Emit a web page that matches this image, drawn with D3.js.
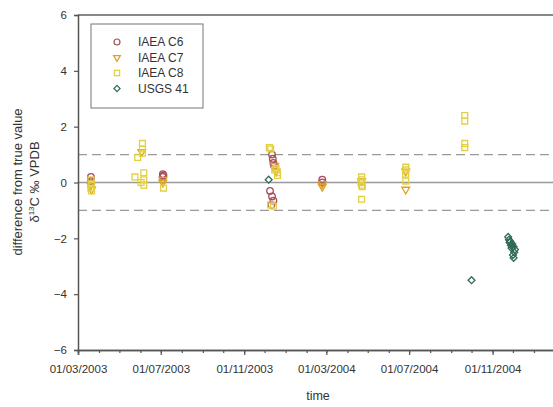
<!DOCTYPE html>
<html>
<head>
<meta charset="utf-8">
<script src="https://cdn.jsdelivr.net/npm/d3@7"></script>
<style>
  body { margin: 0; background: #fff; }
  text { font-family: "Liberation Sans", Arial, sans-serif; fill: #333; }
</style>
</head>
<body>
<script>
let width = 553;
let height = 407;

// data: [date, difference from true value]
let c6 = [
  ['2003-03-20', 0.2], ['2003-03-20', 0.05],
  ['2003-07-04', 0.3], ['2003-07-04', 0.2], ['2003-07-05', 0.25],
  ['2003-12-12', 1.0], ['2003-12-13', 0.85], ['2003-12-14', 0.7], ['2003-12-15', 0.6],
  ['2003-12-09', -0.3], ['2003-12-12', -0.5], ['2003-12-14', -0.65], ['2003-12-11', -0.8],
  ['2004-02-24', 0.1], ['2004-02-24', 0.0]
];
let c7 = [
  ['2003-03-20', -0.1], ['2003-03-21', -0.25],
  ['2003-06-03', 1.1],
  ['2003-07-04', 0.1], ['2003-07-04', 0.0],
  ['2003-12-16', 0.6], ['2003-12-18', 0.4],
  ['2004-02-24', -0.05], ['2004-02-24', -0.15],
  ['2004-04-22', 0.05],
  ['2004-06-26', 0.4], ['2004-06-26', -0.25]
];
let c8 = [
  ['2003-03-20', -0.2], ['2003-03-21', -0.05], ['2003-03-20', 0.1], ['2003-03-21', -0.3],
  ['2003-05-24', 0.2], ['2003-05-28', 0.9], ['2003-06-04', 1.4], ['2003-06-04', 1.2],
  ['2003-06-04', 1.05], ['2003-06-06', 0.35], ['2003-06-06', 0.1], ['2003-06-06', -0.1],
  ['2003-06-02', 0.0],
  ['2003-07-05', -0.2],
  ['2003-12-08', 1.25], ['2003-12-10', 1.2], ['2003-12-18', 0.5], ['2003-12-20', 0.35],
  ['2003-12-20', 0.25], ['2003-12-16', 0.45], ['2003-12-10', -0.8], ['2003-12-14', -0.85],
  ['2004-04-22', 0.2], ['2004-04-22', 0.1], ['2004-04-21', 0.0], ['2004-04-22', -0.1],
  ['2004-04-23', -0.15], ['2004-04-22', -0.6],
  ['2004-06-26', 0.55], ['2004-06-26', 0.45], ['2004-06-26', 0.3], ['2004-06-26', 0.05],
  ['2004-09-21', 2.4], ['2004-09-21', 2.2], ['2004-09-21', 1.4], ['2004-09-21', 1.25]
];
let usgs41 = [
  ['2003-12-07', 0.1],
  ['2004-10-01', -3.5],
  ['2004-11-24', -1.95], ['2004-11-25', -2.05], ['2004-11-26', -2.15], ['2004-11-27', -2.1],
  ['2004-11-28', -2.25], ['2004-11-29', -2.35], ['2004-12-02', -2.3], ['2004-12-04', -2.4],
  ['2004-12-03', -2.5], ['2004-12-01', -2.6], ['2004-12-02', -2.7], ['2004-11-30', -2.2]
];

let seriesNames = ['IAEA C6', 'IAEA C7', 'IAEA C8', 'USGS 41'];
let seriesData = [c6, c7, c8, usgs41];
let seriesColors = ['#a8505a', '#e0a020', '#e2d040', '#2f6a56'];
let seriesShapes = [d3.symbolCircle, d3.symbolTriangle, d3.symbolSquare, d3.symbolDiamond2];
let seriesSizes = [34, 26, 34, 30];

let yTicks = [-6, -4, -2, 0, 2, 4, 6];
let limitLines = [1, -1];

let parse = d3.timeParse('%Y-%m-%d');
let fmt = d3.timeFormat('%d/%m/%Y');
let lastLabel = parse('2004-12-01');

let svg = d3.select('body').append('svg').attr('width', width).attr('height', height);

let x = d3.scaleTime().domain([parse('2003-03-01'), parse('2005-03-01')]).range([78, 574]);
let y = d3.scaleLinear().domain([-6, 6]).range([350, 15]);

// top frame
svg.append('line').attr('x1', 78).attr('x2', width).attr('y1', y(6)).attr('y2', y(6))
  .attr('stroke', '#888').attr('stroke-width', 2);

// reference lines
svg.append('line').attr('x1', 78).attr('x2', width).attr('y1', y(0)).attr('y2', y(0))
  .attr('stroke', '#999').attr('stroke-width', 1.5);
svg.selectAll('.limit').data(limitLines).enter().append('line').attr('class', 'limit')
  .attr('x1', 78).attr('x2', width).attr('y1', d => y(d)).attr('y2', d => y(d))
  .attr('stroke', '#999').attr('stroke-width', 1.3).attr('stroke-dasharray', '9,5');

// axes
let yAxis = svg.append('g').attr('transform', 'translate(78,0)')
  .call(d3.axisLeft(y).tickValues(yTicks).tickSize(4).tickPadding(7).tickFormat(d3.format('d')));
let xMinor = svg.append('g').attr('transform', 'translate(0,' + y(-6) + ')')
  .call(d3.axisBottom(x).ticks(d3.timeMonth.every(1)).tickSize(3).tickFormat(''));
let xAxis = svg.append('g').attr('transform', 'translate(0,' + y(-6) + ')')
  .call(d3.axisBottom(x).ticks(d3.timeMonth.filter(d => (d.getMonth() - 2) % 4 === 0))
    .tickSize(5).tickPadding(10).tickFormat(d => d < lastLabel ? fmt(d) : ''));
[yAxis, xMinor, xAxis].forEach(a => {
  a.select('.domain').attr('stroke', '#555').attr('stroke-width', 1.5);
  a.selectAll('.tick line').attr('stroke', '#555').attr('stroke-width', 1.2);
  a.selectAll('text').attr('font-size', 11.5).attr('fill', '#333')
    .attr('font-family', '"Liberation Sans", Arial, sans-serif');
});

// points
seriesData.forEach((data, i) => {
  svg.append('g').selectAll('path').data(data).enter().append('path')
    .attr('transform', d => 'translate(' + x(parse(d[0])) + ',' + y(d[1]) + ')' + (i === 1 ? ' rotate(180)' : ''))
    .attr('d', d3.symbol().type(seriesShapes[i]).size(seriesSizes[i]))
    .attr('fill', 'none').attr('stroke', seriesColors[i]).attr('stroke-width', 1.3);
});

// legend
let legend = svg.append('g');
legend.append('rect').attr('x', 91).attr('y', 24).attr('width', 112).attr('height', 84)
  .attr('fill', '#fff').attr('stroke', '#777').attr('stroke-width', 1);
seriesNames.forEach((name, i) => {
  let ly = 42 + i * 15.5;
  legend.append('path')
    .attr('transform', 'translate(117,' + ly + ')' + (i === 1 ? ' rotate(180)' : ''))
    .attr('d', d3.symbol().type(seriesShapes[i]).size(seriesSizes[i] - 6))
    .attr('fill', 'none').attr('stroke', seriesColors[i]).attr('stroke-width', 1.2);
  legend.append('text').attr('x', 138).attr('y', ly + 4).attr('font-size', 12).text(name);
});

// axis titles
svg.append('text').attr('x', 318).attr('y', 400).attr('text-anchor', 'middle')
  .attr('font-size', 12.5).text('time');
let yt = svg.append('text').attr('transform', 'translate(22,182) rotate(-90)')
  .attr('text-anchor', 'middle').attr('font-size', 13);
yt.append('tspan').text('difference from true value');
let yt2 = svg.append('text').attr('transform', 'translate(39,182) rotate(-90)')
  .attr('text-anchor', 'middle').attr('font-size', 13);
yt2.append('tspan').text('δ');
yt2.append('tspan').attr('font-size', 8).attr('dy', -5).text('13');
yt2.append('tspan').attr('dy', 5).text('C ‰ VPDB');
</script>
</body>
</html>
